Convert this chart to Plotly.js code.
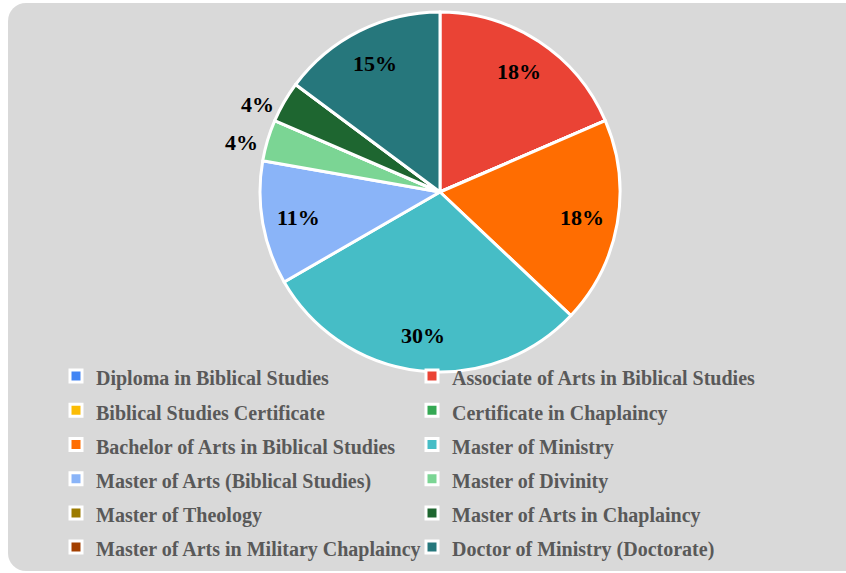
<!DOCTYPE html>
<html>
<head>
<meta charset="utf-8">
<script src="https://cdn.plot.ly/plotly-3.0.1.min.js"></script>
<style>
  html, body { margin: 0; padding: 0; background: #ffffff; overflow: hidden; }
  #bg { position: absolute; left: 8px; top: 3px; width: 860px; height: 568px; background: #d9d9d9; border-radius: 18px; }
  #chart { position: absolute; left: 0; top: 0; width: 846px; height: 573px; }
</style>
</head>
<body>
<div id="bg"></div>
<div id="chart"></div>
<script>
// Programs (legend order, row by row)
const programs = [
  'Diploma in Biblical Studies',
  'Associate of Arts in Biblical Studies',
  'Biblical Studies Certificate',
  'Certificate in Chaplaincy',
  'Bachelor of Arts in Biblical Studies',
  'Master of Ministry',
  'Master of Arts (Biblical Studies)',
  'Master of Divinity',
  'Master of Theology',
  'Master of Arts in Chaplaincy',
  'Master of Arts in Military Chaplaincy',
  'Doctor of Ministry (Doctorate)'
];
// slice sizes
const counts = [0, 5, 0, 0, 5, 8, 3, 1, 0, 1, 0, 4];
// percent labels as printed on the chart
const percentLabels = ['', '18%', '', '', '18%', '30%', '11%', '4%', '', '4%', '', '15%'];
const sliceColors = [
  '#4285f4', '#ea4335', '#fbbc04', '#34a853', '#ff6d01', '#46bdc6',
  '#8ab4f8', '#7bd594', '#9c7b00', '#1e6630', '#a33f00', '#26777c'
];
const labelOutside = [false, false, false, false, false, false, false, true, false, true, false, false];

const legendLabels = programs.map(p => '<span style="font-size:20px">' + p + '</span>');

const W = 846, H = 573;
const cx = 440, cy = 192, R = 180;

// label positions derived from slice mid-angles, placed through the axes
const total = counts.reduce((a, b) => a + b, 0);
const annotations = [];
let cum = 0;
counts.forEach((v, i) => {
  const mid = 2 * Math.PI * (cum + v / 2) / total;
  cum += v;
  if (!v) return;
  const out = labelOutside[i];
  const r = out ? R : R * 0.8;
  annotations.push({
    xref: 'x', yref: 'y',
    x: cx + r * Math.sin(mid),
    y: cy - r * Math.cos(mid),
    text: percentLabels[i],
    showarrow: false,
    xanchor: out ? 'right' : 'center', yanchor: 'middle',
    xshift: out ? -8 : 0, yshift: out ? -2 : 0,
    font: { family: 'Liberation Serif', size: 22, color: '#000000', weight: 'bold' }
  });
});

const pie = {
  type: 'pie',
  labels: legendLabels,
  values: counts,
  textinfo: 'none',
  sort: false,
  direction: 'clockwise',
  rotation: 0,
  marker: { colors: sliceColors, line: { color: '#ffffff', width: 3 } },
  domain: { x: [(cx - R) / W, (cx + R) / W], y: [1 - (cy + R) / H, 1 - (cy - R) / H] },
  hoverinfo: 'none'
};

const layout = {
  width: W, height: H,
  margin: { l: 0, r: 0, t: 0, b: 0 },
  paper_bgcolor: 'rgba(0,0,0,0)',
  plot_bgcolor: 'rgba(0,0,0,0)',
  xaxis: { range: [0, W], visible: false, fixedrange: true },
  yaxis: { range: [H, 0], visible: false, fixedrange: true },
  annotations: annotations,
  showlegend: true,
  legend: {
    orientation: 'h',
    x: 56 / W, xanchor: 'left',
    y: 1 - 354 / H, yanchor: 'top',
    entrywidth: 311, entrywidthmode: 'pixels',
    font: { family: 'Liberation Serif', size: 24, color: '#595959', weight: 'bold' },
    bgcolor: 'rgba(0,0,0,0)',
    traceorder: 'normal'
  }
};

Plotly.newPlot('chart', [pie], layout, { displayModeBar: false, staticPlot: true });
</script>
</body>
</html>
